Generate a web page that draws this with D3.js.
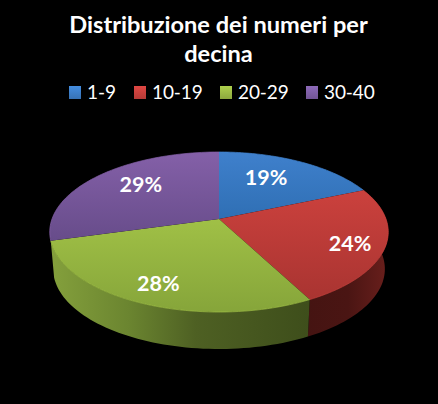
<!DOCTYPE html>
<html><head><meta charset="utf-8">
<script src="https://cdnjs.cloudflare.com/ajax/libs/d3/7.8.5/d3.min.js"></script>
<style>html,body{margin:0;padding:0;background:#000}svg{display:block}text{font-family:Lato,"Open Sans",sans-serif;fill:#fff}</style>
</head><body><svg id="c" width="438" height="404"></svg>
<script>
const categories = ["1-9","10-19","20-29","30-40"];
const values = [18.6,23.7,28.4,29.3];
const titleLines = ["Distribuzione dei numeri per","decina"];

const tops = [["#3f80cc","#2f6fb4"],["#cb413d","#a93431"],["#a0c046","#86a53a"],["#8460a8","#674c8a"]];
const sides = [[[0,"#1d3f66"],[1,"#1d3f66"]],
  [[0,"#451412"],[.5,"#4a1513"],[1,"#6a1f1c"]],
  [[0,"#84a03c"],[.3,"#6b8530"],[.56,"#4e6023"],[1,"#3e4e1b"]],
  [[0,"#5a4378"],[1,"#5a4378"]]];
const legendCols = ["#3d7fc9","#c9403c","#9cbb45","#7f5fa6"];
const nudge = [[-8,-3],[25,7],[-13,13],[3,-6]];

const W=438,H=404,cx=219,cy=219,b=167,a=77.9,k=-0.1625,depth=37,shrink=0.98;
const svg=d3.select("#c");
svg.append("rect").attr("width",W).attr("height",H).attr("fill","#000");
const defs=svg.append("defs");

const proj=(th,r=1)=>{const X=Math.sin(th)*r,Z=-Math.cos(th)*r,w=1+k*Z;return [cx+b*X/w,cy+a*Z/w];};
const low=p=>[cx+(p[0]-cx)*shrink,p[1]+depth];
const arcs=d3.pie().sort(null)(values);
const line=d3.line();
const samples=(s,e)=>d3.range(0,61).map(i=>s+(e-s)*i/60);

// side walls: only slices facing the viewer
arcs.forEach((d,i)=>{
  if(Math.cos((d.startAngle+d.endAngle)/2)>=0) return;
  const up=samples(d.startAngle,d.endAngle).map(t=>proj(t));
  const pts=up.concat(up.map(low).reverse());
  const ext=d3.extent(pts,p=>p[0]);
  const g=defs.append("linearGradient").attr("id","s"+i).attr("gradientUnits","userSpaceOnUse")
    .attr("x1",ext[0]).attr("x2",ext[1]).attr("y1",0).attr("y2",0);
  sides[i].forEach(s=>g.append("stop").attr("offset",s[0]).attr("stop-color",s[1]));
  svg.append("path").attr("d",line(pts)+"Z").attr("fill",`url(#s${i})`);
});
// tops
arcs.forEach((d,i)=>{
  const pts=[[cx,cy]].concat(samples(d.startAngle,d.endAngle).map(t=>proj(t)));
  const g=defs.append("linearGradient").attr("id","t"+i).attr("gradientUnits","userSpaceOnUse")
    .attr("x1",0).attr("x2",0).attr("y1",d3.min(pts,p=>p[1])).attr("y2",d3.max(pts,p=>p[1]));
  g.append("stop").attr("offset",0).attr("stop-color",tops[i][0]);
  g.append("stop").attr("offset",1).attr("stop-color",tops[i][1]);
  svg.append("path").attr("d",line(pts)+"Z").attr("fill",`url(#t${i})`);
  svg.append("path").attr("d",line(pts.slice(1))).attr("fill","none")
    .attr("stroke",tops[i][0]).attr("stroke-opacity",.7).attr("stroke-width",1);
});
// labels
const fmt=d3.format(".0f");
arcs.forEach((d,i)=>{
  const p=proj((d.startAngle+d.endAngle)/2,0.65);
  svg.append("text").attr("x",p[0]+nudge[i][0]).attr("y",p[1]+nudge[i][1]+7.5)
    .attr("text-anchor","middle").attr("font-size",21.5).attr("font-weight",700)
    .text(fmt(d.value)+"%");
});
// title
svg.selectAll(".title").data(titleLines).join("text").attr("class","title")
  .attr("x",218.5).attr("y",(d,i)=>33+i*29).attr("text-anchor","middle")
  .attr("font-size",23.6).attr("font-weight",700).text(d=>d);
// legend
const lx=[69,134,220,306];
categories.forEach((c,i)=>{
  const g=defs.append("linearGradient").attr("id","l"+i).attr("x1",0).attr("x2",0).attr("y1",0).attr("y2",1);
  g.append("stop").attr("offset",0).attr("stop-color",d3.color(legendCols[i]).brighter(.3));
  g.append("stop").attr("offset",1).attr("stop-color",d3.color(legendCols[i]).darker(.3));
  svg.append("rect").attr("x",lx[i]).attr("y",86).attr("width",12).attr("height",13).attr("fill",`url(#l${i})`);
  svg.append("text").attr("x",lx[i]+18).attr("y",99).attr("font-size",19).attr("letter-spacing",-0.1).text(c);
});
</script></body></html>
